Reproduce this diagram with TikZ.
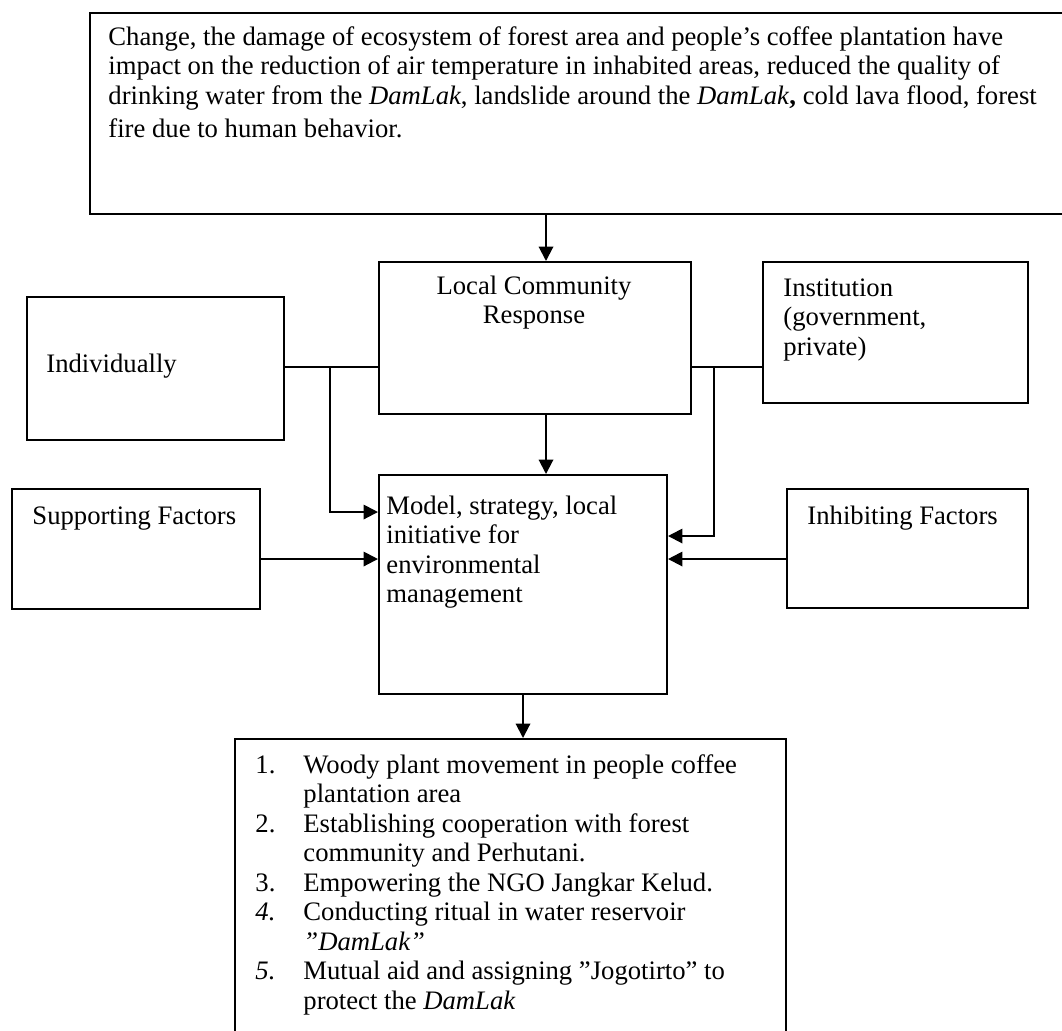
\documentclass[tikz,border=0pt]{standalone}
\usepackage{fontspec}
\setmainfont{Liberation Serif}
\usetikzlibrary{arrows.meta}

\begin{document}
\begin{tikzpicture}
[x=0.45pt, y=-0.45pt,
 kotak/.style={draw=black, line width=0.9pt, inner sep=0pt, anchor=north west},
 teks/.style={inner sep=0pt, align=left, font=\fontsize{12}{13.275}\selectfont},
 garis/.style={line width=0.9pt},
 ->/.style={line width=0.9pt, arrows={-Triangle[length=6.5pt, width=6.5pt]}}]
\useasboundingbox (0,0) rectangle (1062,1030);
% boxes
\node[kotak, minimum width=443.7pt, minimum height=90.45pt] (change) at (89,12) {};
\node[kotak, minimum width=140.4pt, minimum height=68.4pt] (response) at (378,261) {};
\node[kotak, minimum width=115.65pt, minimum height=64.35pt] (indiv) at (26,296) {};
\node[kotak, minimum width=119.25pt, minimum height=63.45pt] (inst) at (762,261) {};
\node[kotak, minimum width=129.6pt, minimum height=98.55pt] (model) at (378,474) {};
\node[kotak, minimum width=111.6pt, minimum height=54pt] (support) at (11,488) {};
\node[kotak, minimum width=108.45pt, minimum height=53.55pt] (inhibit) at (786,488) {};
\node[kotak, minimum width=247.95pt, minimum height=139.5pt] (actions) at (234,738) {};
% texts (anchored at the baseline of their last line)
\node[teks, anchor=base west] (changetxt) at (108,137)
 {Change, the damage of ecosystem of forest area and people’s coffee plantation have\\
  impact on the reduction of air temperature in inhabited areas, reduced the quality of\\
  drinking water from the \textit{DamLak}, landslide around the \textit{DamLak}\textbf{,} cold lava flood, forest\\[1.5pt]
  fire due to human behavior.};
\node[teks, anchor=base, align=center] (responsetxt) at (534,323.5) {Local Community\\Response};
\node[teks, anchor=base west] (indivtxt) at (46,372) {Individually};
\node[teks, anchor=base west] (insttxt) at (783,355) {Institution\\(government,\\private)};
\node[teks, anchor=base west] (modeltxt) at (386,602.5) {Model, strategy, local\\initiative for\\environmental\\management};
\node[teks, anchor=base west] (supporttxt) at (32,524) {Supporting Factors};
\node[teks, anchor=base west] (inhibittxt) at (807,524) {Inhibiting Factors};
\node[teks, anchor=base west] (actionstxt) at (255,1009)
 {\makebox[21.6pt][l]{1.}Woody plant movement in people coffee\\
  \hspace*{21.6pt}plantation area\\
  \makebox[21.6pt][l]{2.}Establishing cooperation with forest\\
  \hspace*{21.6pt}community and Perhutani.\\
  \makebox[21.6pt][l]{3.}Empowering the NGO Jangkar Kelud.\\
  \makebox[21.6pt][l]{\textit{4.}}Conducting ritual in water reservoir\\
  \hspace*{21.6pt}\textit{”DamLak”}\\
  \makebox[21.6pt][l]{\textit{5.}}Mutual aid and assigning ”Jogotirto” to\\
  \hspace*{21.6pt}protect the \textit{DamLak}};
% connectors
\coordinate (ax) at (546,0);
\coordinate (jl) at (330,367);
\coordinate (jr) at (714,367);
\coordinate (ml) at (0,512);
\coordinate (mr) at (0,536);
\coordinate (mf) at (0,559);
\draw[->] (change.south -| ax) -- (response.north -| ax);
\draw[->] (response.south -| ax) -- (model.north -| ax);
\draw[garis] (indiv.east |- jl) -- (response.west |- jl);
\draw[garis] (response.east |- jr) -- (inst.west |- jr);
\draw[->] (jl) |- (model.west |- ml);
\draw[->] (jr) |- (model.east |- mr);
\draw[->] (support.east |- mf) -- (model.west |- mf);
\draw[->] (inhibit.west |- mf) -- (model.east |- mf);
\draw[->] (model.south) -- (actions.north -| model.south);
\end{tikzpicture}
\end{document}
